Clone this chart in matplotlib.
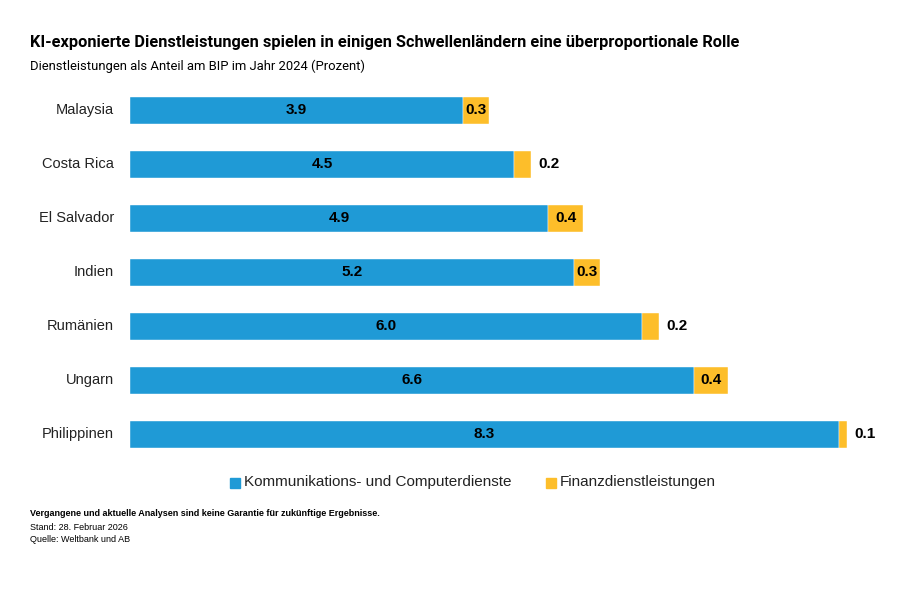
import matplotlib.pyplot as plt
from matplotlib.patches import Rectangle

# data
countries = ['Malaysia', 'Costa Rica', 'El Salvador', 'Indien', 'Rumänien', 'Ungarn', 'Philippinen']
komm = [3.9, 4.5, 4.9, 5.2, 6.0, 6.6, 8.3]
finanz = [0.3, 0.2, 0.4, 0.3, 0.2, 0.4, 0.1]
series_names = ['Kommunikations- und Computerdienste', 'Finanzdienstleistungen']

blue = '#1F9AD6'
orange = '#FDBE2A'

W, H = 910, 591
fig = plt.figure(figsize=(W / 100, H / 100), dpi=100)

def fx(px):
    return px / W

def fy(py):
    return 1 - py / H

ax = fig.add_axes([fx(130), fy(461), fx(896) - fx(130), fy(83) - fy(461)])
y = list(range(len(countries)))
ax.barh(y, komm, height=0.5, color=blue, edgecolor='white', linewidth=0.3)
ax.barh(y, finanz, left=komm, height=0.5, color=orange, edgecolor='white', linewidth=0.3)
ax.set_xlim(0, 8.97)
ax.set_ylim(6.5, -0.5)
ax.axis('off')

lab_font = 'Liberation Sans'
for i in y:
    ax.text(komm[i] / 2, i, f'{komm[i]:.1f}', ha='center', va='center',
            fontsize=11, fontweight='bold', family=lab_font, color='black')
    if finanz[i] >= 0.3:
        ax.text(komm[i] + finanz[i] / 2, i, f'{finanz[i]:.1f}', ha='center', va='center',
                fontsize=11, fontweight='bold', family=lab_font, color='black')
    else:
        ax.text(komm[i] + finanz[i] + 0.08, i, f'{finanz[i]:.1f}', ha='left', va='center',
                fontsize=11, fontweight='bold', family=lab_font, color='black')
    ax.text(-0.19, i, countries[i], ha='right', va='center', fontsize=10.5,
            family=lab_font, color='#222222')

# title block
fig.text(fx(30), fy(43), 'KI-exponierte Dienstleistungen spielen in einigen Schwellenländern eine überproportionale Rolle',
         ha='left', va='center', fontsize=11.8, fontweight='bold', family='Roboto', color='black')
fig.text(fx(30), fy(66), 'Dienstleistungen als Anteil am BIP im Jahr 2024 (Prozent)',
         ha='left', va='center', fontsize=9.4, family='Roboto', color='black')

# legend
for xp, col, name in [(230, blue, series_names[0]), (546, orange, series_names[1])]:
    fig.patches.append(Rectangle((fx(xp), fy(488)), fx(10), 10 / H, color=col,
                                 transform=fig.transFigure, figure=fig))
    fig.text(fx(xp + 14), fy(482), name, ha='left', va='center', fontsize=11,
             family=lab_font, color='#222222')

# footer
fig.text(fx(30), fy(513), 'Vergangene und aktuelle Analysen sind keine Garantie für zukünftige Ergebnisse.',
         ha='left', va='center', fontsize=6.5, fontweight='bold', family=lab_font)
fig.text(fx(30), fy(527), 'Stand: 28. Februar 2026', ha='left', va='center', fontsize=6.5, family=lab_font)
fig.text(fx(30), fy(540), 'Quelle: Weltbank und AB', ha='left', va='center', fontsize=6.5, family=lab_font)

fig.savefig('out.png', dpi=100, facecolor='white')
